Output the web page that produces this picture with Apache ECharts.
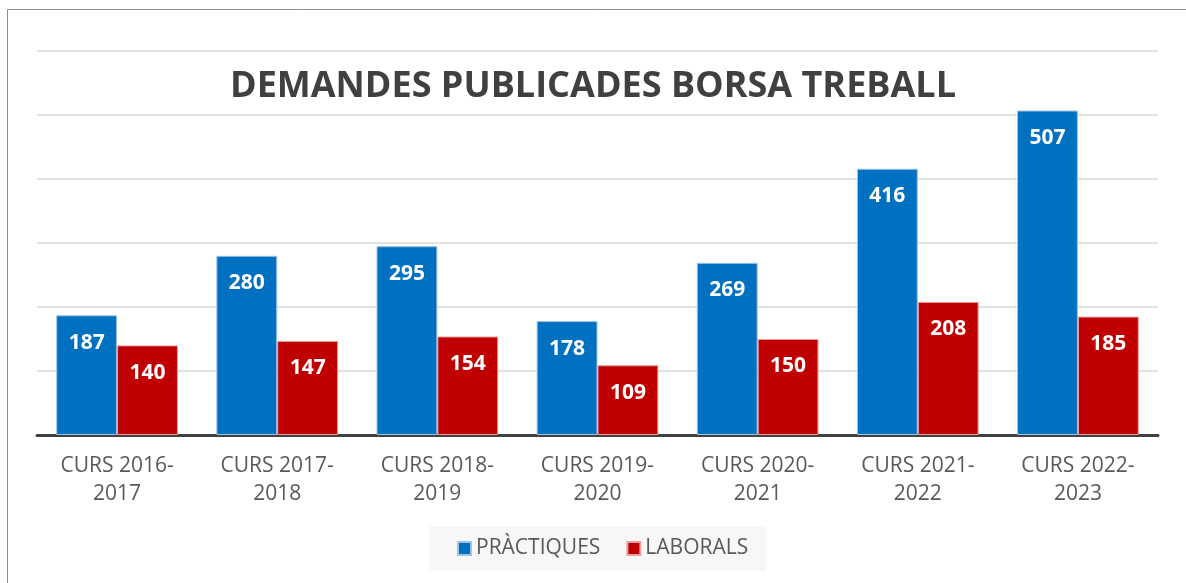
<!DOCTYPE html>
<html>
<head>
<meta charset="utf-8">
<script src="https://cdn.jsdelivr.net/npm/echarts@6/dist/echarts.min.js"></script>
<style>
  html, body { margin: 0; padding: 0; background: #fff; }
  #chart { width: 1186px; height: 583px; }
</style>
</head>
<body>
<div id="chart"></div>
<script>
// dades
var cursos = ['CURS 2016-\n2017', 'CURS 2017-\n2018', 'CURS 2018-\n2019', 'CURS 2019-\n2020',
              'CURS 2020-\n2021', 'CURS 2021-\n2022', 'CURS 2022-\n2023'];
var practiques = [187, 280, 295, 178, 269, 416, 507];
var laborals = [140, 147, 154, 109, 150, 208, 185];

var myChart = echarts.init(document.getElementById('chart'));

var etiqueta = {
    show: true,
    position: 'insideTop',
    distance: 17,
    color: '#fff',
    fontFamily: 'Open Sans',
    fontWeight: 'bold',
    fontSize: 21
};

var option = {
    backgroundColor: '#fff',
    animation: false,
    title: {
        text: 'DEMANDES PUBLICADES BORSA TREBALL',
        left: 'center',
        top: 64,
        textStyle: {
            fontFamily: 'Open Sans',
            fontWeight: 'bold',
            fontSize: 36,
            color: '#404040'
        }
    },
    graphic: [{
        type: 'rect',
        shape: { x: 7.5, y: 9.5, width: 1200, height: 600 },
        style: { fill: 'none', stroke: '#8c8c8c', lineWidth: 1 },
        silent: true
    }],
    legend: {
        bottom: 12,
        left: 429,
        itemWidth: 13,
        itemHeight: 13,
        itemGap: 26,
        padding: [12, 18, 12, 28],
        backgroundColor: '#f7f7f7',
        icon: 'rect',
        textStyle: { fontFamily: 'Open Sans', fontSize: 21, color: '#595959' }
    },
    grid: { left: 37, right: 28, top: 51, bottom: 148 },
    xAxis: {
        type: 'category',
        data: cursos,
        axisTick: { show: false },
        axisLine: { lineStyle: { color: '#404040', width: 3 } },
        axisLabel: {
            fontFamily: 'Open Sans',
            fontSize: 21,
            color: '#595959',
            lineHeight: 28,
            margin: 17
        }
    },
    yAxis: {
        type: 'value',
        min: 0,
        max: 600,
        interval: 100,
        axisLabel: { show: false },
        axisLine: { show: false },
        axisTick: { show: false },
        splitLine: { lineStyle: { color: '#d9d9d9', width: 1.5 } }
    },
    series: [{
        name: 'PRÀCTIQUES',
        type: 'bar',
        data: practiques,
        barGap: '0%',
        barCategoryGap: '24%',
        itemStyle: { color: '#0070C0', borderColor: '#9dc3e6', borderWidth: 1 },
        label: etiqueta
    }, {
        name: 'LABORALS',
        type: 'bar',
        data: laborals,
        itemStyle: { color: '#C00000', borderColor: '#e8a0a0', borderWidth: 1 },
        label: etiqueta
    }]
};
myChart.setOption(option);
</script>
</body>
</html>
